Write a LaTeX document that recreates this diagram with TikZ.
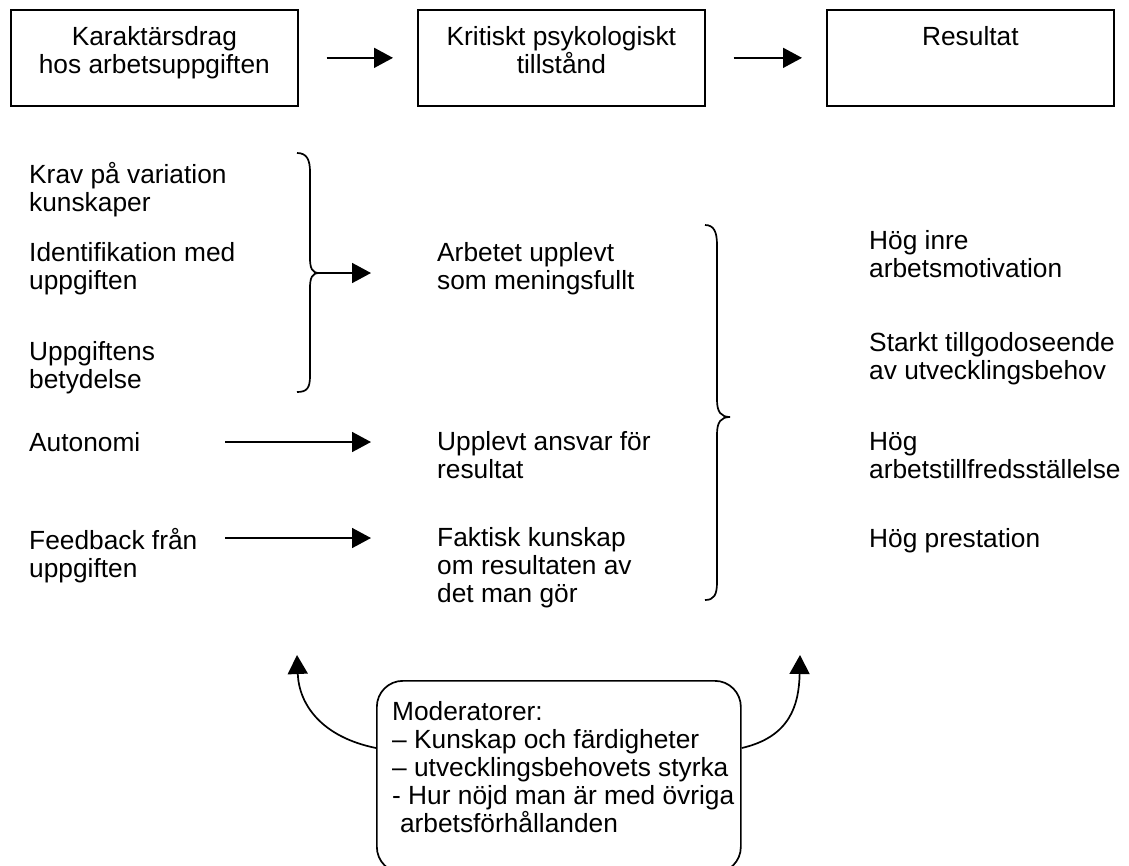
\documentclass[tikz,border=0pt]{standalone}
\usepackage{fontspec}
\setmainfont{Liberation Sans}
\usetikzlibrary{arrows.meta,calc}
\begin{document}
\begin{tikzpicture}[x=1pt,y=-1pt,
  every node/.style={font=\fontsize{26.3}{28}\selectfont, inner sep=0pt, execute at begin node=\strut},
  txt/.style={anchor=north west, align=left},
  topbox/.style={draw, line width=1.7pt, minimum width=287pt, minimum height=96pt, anchor=north west},
  boxtext/.style={anchor=north, align=center},
  conn/.style={line width=1.7pt, -{Triangle[length=19pt,width=20pt]}},
  brace/.style={line width=1.7pt}
]
\useasboundingbox (0,0) rectangle (1129,865);

% top boxes
\node[topbox] (b1) at (10,9) {};
\node[topbox] (b2) at (417,9) {};
\node[topbox] (b3) at (826,9) {};
\node[boxtext] (t1) at ($(b1.north)+(0,17)$) {Karaktärsdrag\\hos arbetsuppgiften};
\node[boxtext] (t2) at ($(b2.north)+(0,17)$) {Kritiskt psykologiskt\\tillstånd};
\node[boxtext] (t3) at ($(b3.north)+(0,17)$) {Resultat};
\draw[conn, shorten <=28pt, shorten >=24pt] (b1.east) -- (b2.west);
\draw[conn, shorten <=28pt, shorten >=24pt] (b2.east) -- (b3.west);

% left column
\node[txt] (l1) at (29,161.7) {Krav på variation\\kunskaper};
\node[txt] (l2) at (29,242.7) {Identifikation med\\uppgiften};
\node[txt] (l3) at (29,341.7) {Uppgiftens\\betydelse};
\node[txt] (l4) at (29,431.7) {Autonomi};
\node[txt] (l5) at (29,527.7) {Feedback från\\uppgiften};

% middle column
\node[txt] (m1) at (437,242.7) {Arbetet upplevt\\som meningsfullt};
\node[txt] (m2) at (437,431.7) {Upplevt ansvar för\\resultat};
\node[txt] (m3) at (437,527.7) {Faktisk kunskap\\om resultaten av\\det man gör};

% right column
\node[txt] (r1) at (869,230.7) {Hög inre\\arbetsmotivation};
\node[txt] (r2) at (869,332.7) {Starkt tillgodoseende\\av utvecklingsbehov};
\node[txt] (r3) at (869,431.7) {Hög\\arbetstillfredsställelse};
\node[txt] (r4) at (869,527.7) {Hög prestation};

% left brace
\draw[brace] (297,153) .. controls (307,153) and (310,160) .. (310,172) -- (310,258)
  .. controls (310,268) and (312,273) .. (319,273)
  .. controls (312,273) and (310,278) .. (310,288) -- (310,376)
  .. controls (310,388) and (307,392) .. (297,392);
\coordinate (lbp) at (318,273);
\coordinate (lbe) at (371,273);
\draw[conn] (lbp) -- (lbe);

% right brace
\draw[brace] (705,225) .. controls (714,225) and (717,232) .. (717,245) -- (717,400)
  .. controls (717,412) and (721,417) .. (730,417)
  .. controls (721,417) and (717,422) .. (717,434) -- (717,582)
  .. controls (717,595) and (714,600) .. (705,600);

% straight arrows
\coordinate (a1s) at (225,442);
\coordinate (a1e) at (371,442);
\coordinate (a2s) at (225,538);
\coordinate (a2e) at (371,538);
\draw[conn] (a1s) -- (a1e);
\draw[conn] (a2s) -- (a2e);

% moderator box
\node[draw, line width=1.7pt, rounded corners=26pt, minimum width=364pt, minimum height=192pt, anchor=north west, execute at begin node={}] (mod) at (376,680) {};
\node[txt] (modt) at (392,701.7) {Moderatorer:\\– Kunskap och färdigheter\\– utvecklingsbehovets styrka\\- Hur nöjd man är med övriga\\\hspace*{0.3em}arbetsförhållanden};
\coordinate (ml) at ($(mod.north west)+(0,68)$);
\coordinate (mr) at ($(mod.north east)+(0,68)$);
\coordinate (tl) at (297,655);
\coordinate (tr) at (800,655);
\draw[conn] (ml) .. controls (322,737) and (299,705) .. (tl);
\draw[conn] (mr) .. controls (790,737) and (799,705) .. (tr);
\end{tikzpicture}
\end{document}
